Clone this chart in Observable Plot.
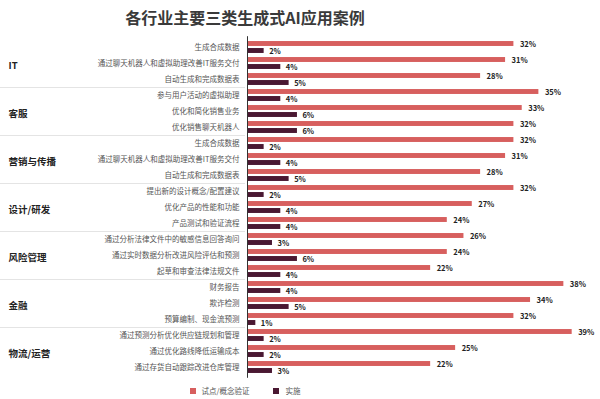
<!DOCTYPE html>
<html><head><meta charset="utf-8">
<script src="https://cdn.jsdelivr.net/npm/d3@7"></script>
<script src="https://cdn.jsdelivr.net/npm/@observablehq/plot@0.6"></script>
<style>
body{margin:0;background:#fff;font-family:"Noto Sans CJK SC","Noto Sans",sans-serif;}
#wrap{position:relative;width:600px;height:399px;overflow:hidden}
#title{position:absolute;left:0;top:6px;width:490px;text-align:center;font-size:16px;font-weight:bold;color:#3a3a3a;line-height:22px}
#chart{position:absolute;left:0;top:30px}
#legend{position:absolute;left:0;top:384px;width:490px;display:flex;justify-content:center;gap:24px;font-size:7.5px;color:#555;line-height:14px}
.sw{display:inline-block;width:6px;height:6px;margin-right:6px;vertical-align:middle;position:relative;top:-1px}
</style></head>
<body>
<div id="wrap">
<div id="title">各行业主要三类生成式AI应用案例</div>
<div id="chart"></div>
<div id="legend"></div>
</div>
<script>
const groups = ["IT","客服","营销与传播","设计/研发","风险管理","金融","物流/运营"];
const useCases = [
 "生成合成数据","通过聊天机器人和虚拟助理改善IT服务交付","自动生成和完成数据表",
 "参与用户活动的虚拟助理","优化和简化销售业务","优化销售聊天机器人",
 "生成合成数据","通过聊天机器人和虚拟助理改善IT服务交付","自动生成和完成数据表",
 "提出新的设计概念/配置建议","优化产品的性能和功能","产品测试和验证流程",
 "通过分析法律文件中的敏感信息回答询问","通过实时数据分析改进风险评估和预测","起草和审查法律法规文件",
 "财务报告","欺诈检测","预算编制、现金流预测",
 "通过预测分析优化供应链规划和管理","通过优化路线降低运输成本","通过存货自动跟踪改进仓库管理"
];
const pilot = [32,31,28, 35,33,32, 32,31,28, 32,27,24, 26,24,22, 38,34,32, 39,25,22];
const implemented = [2,4,5, 4,6,6, 2,4,5, 2,4,4, 3,6,4, 4,5,1, 2,2,3];
const seriesNames = ["试点/概念验证","实施"];
const colors = ["#d75f5e","#4a1832"];

const rows = useCases.map((u,i)=>({
  key: groups[Math.floor(i/3)]+"|"+i+"|"+u,
  group: groups[Math.floor(i/3)],
  label: u, pilot: pilot[i], impl: implemented[i]
}));
const keys = rows.map(d=>d.key);
const mids = groups.map((g,gi)=>({group:g, key:keys[gi*3+1]}));
const sepKeys = groups.slice(1).map((g,gi)=>keys[(gi+1)*3]);

const W=600, H=350, mt=6.2, mb=2.2, ml=247, mr=20;
const step=(H-mt-mb)/keys.length;
const font='"Noto Sans CJK SC","Noto Sans",sans-serif';

function separators(index, scales, values, dims){
  const y = scales.y;
  const g = d3.create("svg:g");
  for (const k of sepKeys){
    const yy = Math.round(y(k))+0.5;
    g.append("line").attr("x1",0).attr("x2",dims.marginLeft-2)
     .attr("y1",yy).attr("y2",yy).attr("stroke","#e4e4e4").attr("stroke-width",1);
  }
  return g.node();
}

const chart = Plot.plot({
  width:W, height:H, marginTop:mt, marginBottom:mb, marginLeft:ml, marginRight:mr,
  style:{fontFamily:font, background:"transparent", overflow:"visible"},
  x:{domain:[0,40], axis:null},
  y:{domain:keys, padding:0, axis:null},
  marks:[
    separators,
    Plot.barX(rows,{x:"pilot",y:"key",fill:colors[0],insetTop:step/2-6.1,insetBottom:step/2+0.9}),
    Plot.barX(rows,{x:"impl",y:"key",fill:colors[1],insetTop:step/2+0.9,insetBottom:step/2-6.1}),
    Plot.ruleX([0],{stroke:"#333",strokeWidth:1}),
    Plot.text(rows,{x:"pilot",y:"key",text:d=>d.pilot+"%",dx:6,dy:-3.4,textAnchor:"start",fontWeight:"bold",fontSize:7.5,fill:"#222"}),
    Plot.text(rows,{x:"impl",y:"key",text:d=>d.impl+"%",dx:5,dy:3.6,textAnchor:"start",fontWeight:"bold",fontSize:7.5,fill:"#222"}),
    Plot.text(rows,{y:"key",text:"label",frameAnchor:"left",dx:-8,textAnchor:"end",fontSize:7.5,fill:"#555"}),
    Plot.text(mids,{y:"key",text:"group",frameAnchor:"left",dx:-(ml-8),textAnchor:"start",fontWeight:"bold",fontSize:9.5,fill:"#222",dy:2})
  ]
});
document.getElementById("chart").appendChild(chart);

const legend = d3.select("#legend");
seriesNames.forEach((s,i)=>{
  const it = legend.append("span");
  it.append("span").attr("class","sw").style("background",colors[i]);
  it.append("span").text(s);
});
</script>
</body></html>
